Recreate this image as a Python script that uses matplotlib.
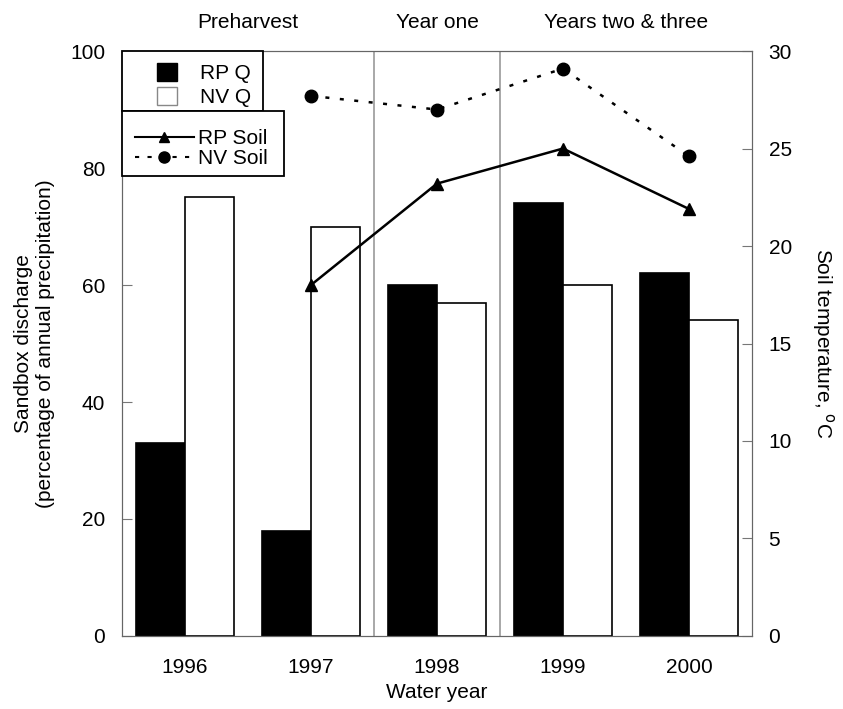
import matplotlib.pyplot as plt
from matplotlib.lines import Line2D
from matplotlib.patches import Patch, Rectangle
import numpy as np

plt.rcParams['font.family'] = ['Liberation Sans', 'DejaVu Sans']

# data
years = ['1996', '1997', '1998', '1999', '2000']
rp_q = [33, 18, 60, 74, 62]
nv_q = [75, 70, 57, 60, 54]
soil_years = ['1997', '1998', '1999', '2000']
rp_soil = [18.0, 23.2, 25.0, 21.9]
nv_soil = [27.7, 27.0, 29.1, 24.6]
periods = ['Preharvest', 'Year one', 'Years two & three']
period_pos = [0.5, 2.0, 3.5]
period_breaks = [1.5, 2.5]

fs = 15
fig = plt.figure(figsize=(8.43, 7.09), dpi=100)
ax = fig.add_axes([0.1447, 0.103, 0.7473, 0.825])

x = np.arange(len(years))
w = 0.39
ax.bar(x - w / 2, rp_q, w, color='black', edgecolor='black', linewidth=1.2, zorder=2)
ax.bar(x + w / 2, nv_q, w, color='white', edgecolor='black', linewidth=1.2, zorder=2)

for b in period_breaks:
    ax.axvline(b, color='#999999', linewidth=1.2, zorder=1)

ax.set_xlim(-0.5, 4.5)
ax.set_ylim(0, 100)
ax.set_yticks([0, 20, 40, 60, 80, 100])
ax.set_xticks(x)
ax.set_xticklabels(years)
ax.tick_params(axis='x', length=0, pad=16, labelsize=fs)
ax.tick_params(axis='y', direction='in', length=7, color='#777777', pad=12, labelsize=fs)
ax.set_xlabel('Water year', fontsize=fs, labelpad=4)
ax.set_ylabel('Sandbox discharge\n(percentage of annual precipitation)', fontsize=fs, labelpad=11)
for s in ax.spines.values():
    s.set_color('#666666')

ax2 = ax.twinx()
sx = [years.index(y) for y in soil_years]
ax2.plot(sx, rp_soil, color='black', linewidth=1.8, marker='^', markersize=8, zorder=3)
ax2.plot(sx, nv_soil, color='black', linewidth=1.8, linestyle=(0, (1.6, 4.2)), marker='o', markersize=9, zorder=3)
ax2.set_ylim(0, 30)
ax2.set_yticks([0, 5, 10, 15, 20, 25, 30])
ax2.tick_params(axis='y', direction='in', length=7, color='#777777', pad=12, labelsize=fs)
ax2.set_ylabel('Soil temperature, $^{\\mathrm{o}}$C', fontsize=fs, rotation=270, labelpad=32)
for s in ax2.spines.values():
    s.set_color('#666666')

for p, lab in zip(period_pos, periods):
    ax.text(p, 103.3, lab, ha='center', va='bottom', fontsize=fs)

# legend boxes
ax2.add_patch(Rectangle((0, 0.897), 0.224, 0.103, transform=ax2.transAxes,
                        facecolor='white', edgecolor='black', linewidth=1.3, zorder=5, clip_on=False))
ax2.add_patch(Rectangle((0, 0.786), 0.257, 0.111, transform=ax2.transAxes,
                        facecolor='white', edgecolor='black', linewidth=1.3, zorder=5, clip_on=False))

leg1 = ax2.legend([Patch(facecolor='black', edgecolor='black'),
                   Patch(facecolor='white', edgecolor='#888888')],
                  ['RP Q', 'NV Q'], loc='upper left', bbox_to_anchor=(0.056, 0.98),
                  fontsize=fs, frameon=False, borderpad=0, handlelength=0.95,
                  handleheight=0.95, labelspacing=0.2, handletextpad=1.1, borderaxespad=0)
leg1.set_zorder(6)
ax2.add_artist(leg1)
leg2 = ax2.legend([Line2D([], [], color='black', linewidth=1.5, marker='^', markersize=7),
                   Line2D([], [], color='black', linewidth=1.5, linestyle=(0, (2, 4)), marker='o', markersize=8)],
                  ['RP Soil', 'NV Soil'], loc='upper left', bbox_to_anchor=(0.021, 0.867),
                  fontsize=fs, frameon=False, borderpad=0, handlelength=2.8,
                  labelspacing=0.05, handletextpad=0.2, borderaxespad=0)
leg2.set_zorder(6)

fig.savefig('out.png', dpi=100)
